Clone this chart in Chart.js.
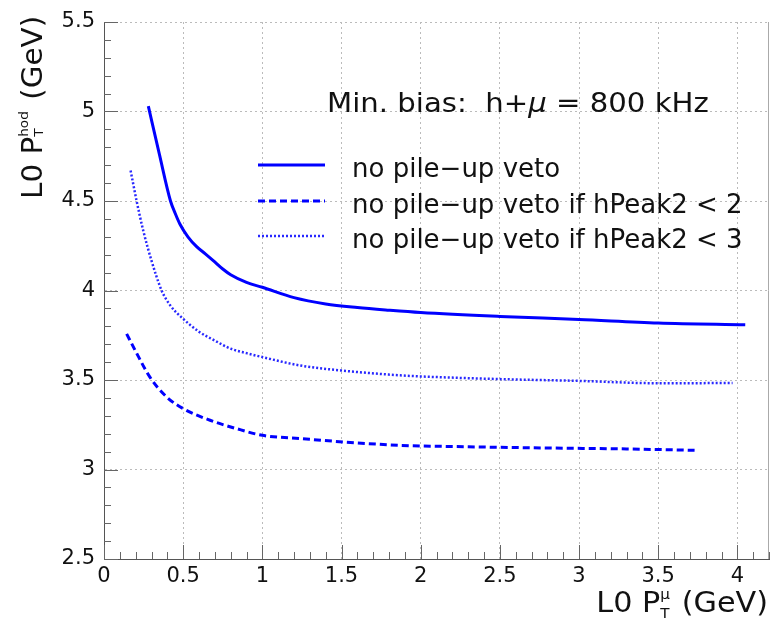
<!DOCTYPE html>
<html>
<head>
<meta charset="utf-8">
<script src="https://cdn.jsdelivr.net/npm/chart.js@4.4.1/dist/chart.umd.min.js"></script>
<style>
  html, body { margin: 0; padding: 0; background: #fff; }
  #c { display: block; }
</style>
</head>
<body>
<canvas id="c" width="771" height="622"></canvas>
<script>
// ---- data ----
const seriesNames = ["no pile\u2212up veto", "no pile\u2212up veto if hPeak2 < 2", "no pile\u2212up veto if hPeak2 < 3"];

const noVetoX = [0.28, 0.35, 0.42, 0.45, 0.48, 0.53, 0.585, 0.64, 0.69, 0.75, 0.80, 0.90, 1.0, 1.2, 1.4, 1.6, 1.8, 2.0, 2.5, 3.0, 3.5, 4.05];
const noVetoY = [5.03, 4.76, 4.50, 4.43, 4.37, 4.30, 4.245, 4.205, 4.167, 4.12, 4.088, 4.045, 4.018, 3.96, 3.925, 3.905, 3.89, 3.877, 3.855, 3.838, 3.818, 3.808];

const peak2X = [0.143, 0.20, 0.29, 0.396, 0.50, 0.67, 0.838, 1.0, 1.24, 1.51, 1.87, 2.3, 2.82, 3.3, 3.73];
const peak2Y = [3.758, 3.66, 3.516, 3.405, 3.34, 3.275, 3.228, 3.191, 3.173, 3.154, 3.135, 3.127, 3.12, 3.115, 3.107];

const peak3X = [0.168, 0.206, 0.248, 0.30, 0.364, 0.42, 0.49, 0.60, 0.70, 0.80, 0.90, 1.0, 1.24, 1.5, 1.87, 2.0, 2.5, 3.0, 3.5, 3.97];
const peak3Y = [4.67, 4.50, 4.334, 4.167, 4.0, 3.915, 3.85, 3.77, 3.72, 3.675, 3.65, 3.628, 3.581, 3.553, 3.526, 3.52, 3.505, 3.495, 3.482, 3.483];

const xRange = [0, 4.2];
const yRange = [2.5, 5.5];
const majorStep = 0.5;
const minorStep = 0.1;

const headerText = ["Min. bias:  h+", "\u03bc", " = 800 kHz"];

// ---- helpers ----
const FONT = '"DejaVu Sans", "Liberation Sans", sans-serif';
function pts(xs, ys) { return xs.map((x, i) => ({ x: x, y: ys[i] })); }

function segWidth(ctx, s) {
  if (s.t !== undefined) {
    ctx.font = (s.italic ? 'italic ' : '') + s.size + 'px ' + FONT;
    return ctx.measureText(s.t).width;
  }
  ctx.font = s.size + 'px ' + FONT;
  return Math.max(ctx.measureText(s.sub).width, ctx.measureText(s.sup).width);
}
function drawRich(ctx, segs, x, y, sx) {
  sx = sx || 1;
  ctx.save();
  ctx.translate(x, y);
  ctx.scale(sx, 1);
  let cx = 0;
  ctx.textBaseline = 'alphabetic';
  ctx.textAlign = 'left';
  for (const s of segs) {
    const w = segWidth(ctx, s);
    if (s.t !== undefined) {
      ctx.font = (s.italic ? 'italic ' : '') + s.size + 'px ' + FONT;
      ctx.fillText(s.t, cx, (s.dy || 0));
    } else {
      ctx.font = s.size + 'px ' + FONT;
      ctx.fillText(s.sub, cx, s.subDy);
      ctx.fillText(s.sup, cx, s.supDy);
    }
    cx += w + (s.after || 0);
  }
  ctx.restore();
  return cx * sx;
}
function richWidth(ctx, segs, sx) {
  return (sx || 1) * segs.reduce((a, s) => a + segWidth(ctx, s) + (s.after || 0), 0);
}

const xTitleSegs = [
  { t: 'L0 P', size: 28 },
  { sub: 'T', sup: '\u03bc', size: 14, subDy: 6, supDy: -13, after: 2 },
  { t: ' (GeV)', size: 28 }
];
const yTitleSegs = [
  { t: 'L0 P', size: 28 },
  { sub: 'T', sup: 'hod', size: 13, subDy: 1, supDy: -14, after: 2 },
  { t: ' (GeV)', size: 28 }
];

const decorPlugin = {
  id: 'decor',
  beforeDraw(chart) {
    const ctx = chart.ctx;
    ctx.save();
    ctx.fillStyle = '#ffffff';
    ctx.fillRect(0, 0, chart.width, chart.height);
    ctx.restore();
  },
  afterDraw(chart) {
    const ctx = chart.ctx;
    const a = chart.chartArea;
    const xs = chart.scales.x, ys = chart.scales.y;
    ctx.save();
    // right frame
    ctx.strokeStyle = '#aaaaaa';
    ctx.lineWidth = 1;
    ctx.beginPath();
    ctx.moveTo(Math.round(a.right) - 0.5, a.top);
    ctx.lineTo(Math.round(a.right) - 0.5, a.bottom);
    ctx.stroke();
    // inward ticks
    ctx.strokeStyle = '#666666';
    ctx.lineWidth = 1;
    ctx.beginPath();
    const nY = Math.round((yRange[1] - yRange[0]) / minorStep);
    for (let i = 0; i <= nY; i++) {
      const v = yRange[0] + i * minorStep;
      const p = Math.round(ys.getPixelForValue(v)) + 0.5;
      const major = i % 5 === 0;
      ctx.moveTo(a.left, p);
      ctx.lineTo(a.left + (major ? 14 : 7), p);
    }
    const nX = Math.floor((xRange[1] - xRange[0]) / minorStep + 1e-6);
    for (let i = 0; i <= nX; i++) {
      const v = xRange[0] + i * minorStep;
      const p = Math.round(xs.getPixelForValue(v)) + 0.5;
      const major = i % 5 === 0;
      ctx.moveTo(p, a.bottom);
      ctx.lineTo(p, a.bottom - (major ? 14 : 7));
    }
    ctx.stroke();

    // header text
    ctx.fillStyle = '#111111';
    drawRich(ctx, [
      { t: headerText[0], size: 27 },
      { t: headerText[1], size: 27, italic: true },
      { t: headerText[2], size: 27 }
    ], 327, 112, 1.08);

    // legend
    const rows = [165, 201, 236];
    chart.data.datasets.forEach((ds, i) => {
      ctx.save();
      ctx.strokeStyle = ds.borderColor;
      ctx.lineWidth = ds.borderWidth;
      ctx.setLineDash(ds.borderDash || []);
      ctx.beginPath();
      ctx.moveTo(258, rows[i]);
      ctx.lineTo(325, rows[i]);
      ctx.stroke();
      ctx.restore();
      ctx.fillStyle = '#111111';
      ctx.font = '26px ' + FONT;
      ctx.textBaseline = 'alphabetic';
      ctx.textAlign = 'left';
      ctx.fillText(ds.label, 352, rows[i] + 12);
    });

    // x axis title (right aligned)
    const sxX = 1.08;
    const wX = richWidth(ctx, xTitleSegs, sxX);
    drawRich(ctx, xTitleSegs, 768 - wX, 612, sxX);

    // y axis title (rotated)
    ctx.save();
    ctx.translate(42, 199);
    ctx.rotate(-Math.PI / 2);
    drawRich(ctx, yTitleSegs, 0, 0, 1.05);
    ctx.restore();
    ctx.restore();
  }
};

const blue = 'rgb(0,0,255)';
const gridColor = '#bbbbbb';

new Chart(document.getElementById('c'), {
  type: 'line',
  data: {
    datasets: [
      { label: seriesNames[0], data: pts(noVetoX, noVetoY), borderColor: blue, borderWidth: 3, borderDash: [], pointRadius: 0, cubicInterpolationMode: 'monotone', fill: false },
      { label: seriesNames[1], data: pts(peak2X, peak2Y), borderColor: blue, borderWidth: 3, borderDash: [7, 4], pointRadius: 0, cubicInterpolationMode: 'monotone', fill: false },
      { label: seriesNames[2], data: pts(peak3X, peak3Y), borderColor: 'rgb(40,40,255)', borderWidth: 2.5, borderDash: [2, 2], pointRadius: 0, cubicInterpolationMode: 'monotone', fill: false }
    ]
  },
  options: {
    responsive: false,
    animation: false,
    devicePixelRatio: 1,
    layout: { padding: { top: 22, right: 2, left: 0, bottom: 0 } },
    plugins: { legend: { display: false }, tooltip: { enabled: false } },
    scales: {
      x: {
        type: 'linear',
        min: xRange[0], max: xRange[1],
        afterFit(scale) { scale.height = 63; },
        ticks: {
          stepSize: majorStep, includeBounds: false, padding: 5,
          color: '#111', font: { family: FONT, size: 21 },
          maxRotation: 0, autoSkip: false,
          callback: (v) => String(Math.round(v * 10) / 10)
        },
        grid: { color: gridColor, lineWidth: 1, drawTicks: false },
        border: { display: true, color: '#555555', width: 1, dash: [2, 3] }
      },
      y: {
        type: 'linear',
        min: yRange[0], max: yRange[1],
        afterFit(scale) { scale.width = 104; },
        ticks: {
          stepSize: majorStep, includeBounds: false, padding: 9,
          color: '#111', font: { family: FONT, size: 21 },
          autoSkip: false,
          callback: (v) => String(Math.round(v * 10) / 10)
        },
        grid: { color: gridColor, lineWidth: 1, drawTicks: false },
        border: { display: true, color: '#555555', width: 1, dash: [2, 3] }
      }
    }
  },
  plugins: [decorPlugin]
});
</script>
</body>
</html>
